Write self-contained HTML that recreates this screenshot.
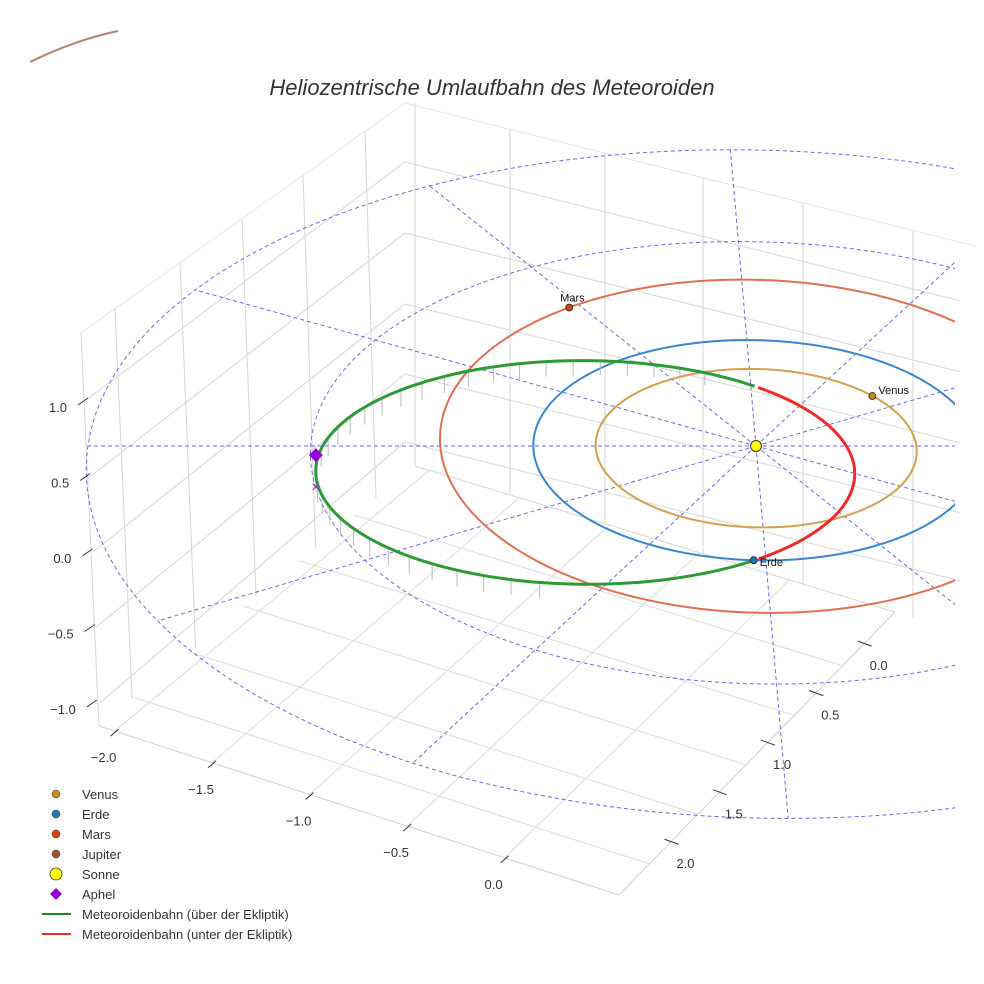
<!DOCTYPE html>
<html><head><meta charset="utf-8"><style>
body{margin:0;background:#fff}
svg{display:block;font-family:"Liberation Sans",sans-serif}
</style></head><body>
<svg id="c" width="984" height="984" viewBox="0 0 984 984">
<defs><clipPath id="clp"><rect x="0" y="0" width="955" height="984"/></clipPath></defs>
<text x="492" y="95" text-anchor="middle" font-size="22" font-style="italic" fill="#333">Heliozentrische Umlaufbahn des Meteoroiden</text>
<g id="grid"></g>
<g id="ref" clip-path="url(#clp)"></g>
<g id="orb" clip-path="url(#clp)"></g>
<g id="ax"></g>
<g id="leg"></g>
</svg>
<script>
const planetNames=["Venus","Erde","Mars"];
const planetRadiiU=[0.72,1.0,1.42];
const planetRadiiV=[0.72,1.0,1.52];
const planetCenterV=[0,0,-0.085];
const planetAngles=[-40,93,-125.5];
const planetColors=["#c98a1a","#1f77b4","#d1440f"];
const orbitColors=["#d4a04a","#3a86d0","#e07050"];
const meteorCenter=[-0.77,0.2];
const meteorAxes=[1.2,1.0];
const splitAngles=[-48,53];
const zTicks=["1.0","0.5","0.0","\u22120.5","\u22121.0"];
const xTicks=["\u22122.0","\u22121.5","\u22121.0","\u22120.5","0.0"];
const yTicks=["0.0","0.5","1.0","1.5","2.0"];
const refRings=[1.0,2.0,3.0];

const NS="http://www.w3.org/2000/svg";
const CX=756,CY=446,A=222.7,D=110,SK=9.5,K=0.038;
function proj(u,v){const w=1-K*v;return [CX+(A*u+SK*v)/w, CY+D*v/w]}
function mk(t,a,p){const e=document.createElementNS(NS,t);for(const k in a)e.setAttribute(k,a[k]);(p||document.getElementById('orb')).appendChild(e);return e}
function pathOf(fn,t0,t1){let d='';for(let t=t0;t<=t1+0.001;t+=2){const p=fn(t);d+=(d?'L':'M')+p[0].toFixed(1)+','+p[1].toFixed(1)}return d}
const grid=document.getElementById('grid');
function gl(x1,y1,x2,y2,c){const l=mk('line',{x1,y1,x2,y2,stroke:c||'#d6d6d6','stroke-width':1},grid);}
function lerp(p,q,t){return [p[0]+(q[0]-p[0])*t,p[1]+(q[1]-p[1])*t]}
const TL=[81,333],TB=[405,103],BL=[99,726],BB=[415,466],FR=[619,895],RR=[895,612],TR=[975,246];
gl(TL[0],TL[1],TB[0],TB[1],'#e6e6e6');gl(TB[0],TB[1],TR[0],TR[1],'#e6e6e6');
gl(TL[0],TL[1],BL[0],BL[1]);gl(TB[0]+10,TB[1],BB[0],BB[1]);
[[400,162],[477,233],[552,304],[627,374],[703,442]].forEach(p=>{const xl=83+(p[0]-333)*0.045;gl(xl,p[0],405,p[1]);});
[115,180,242,303,365].forEach(x=>{const t=333-(x-81)*0.71;const f=(x-81)/324;const b=lerp(BL,BB,f);gl(x,t,b[0],b[1]);});
[162,233,304,374,442].forEach(y=>{gl(405,y,960,y+0.25*555);});
[510,605,703,803,913].forEach(x=>{const t=103+0.25*(x-405);const f=(x-415)/480;const b=lerp(BB,RR,f);gl(x,t,b[0],b[1]);});
gl(BB[0],BB[1],RR[0],RR[1]);
gl(BL[0],BL[1],FR[0],FR[1],'#cfcfcf');gl(FR[0],FR[1],RR[0],RR[1],'#cfcfcf');
for(let i=0;i<5;i++){const f=0.03+i*0.1875;const a=lerp(BL,FR,f),b=lerp(BB,RR,f);gl(a[0],a[1],b[0],b[1],'#dcdcdc');}
for(let i=0;i<5;i++){const f=0.11+i*0.175;const a=lerp(FR,RR,f),b=lerp(BL,BB,f);gl(a[0],a[1],b[0],b[1],'#dcdcdc');}
const ref=document.getElementById('ref');
refRings.forEach(r=>{const e=mk('path',{d:pathOf(t=>{const a=t*Math.PI/180;return proj(r*Math.cos(a),r*Math.sin(a))},0,360),fill:'none',stroke:'#6a6ae8','stroke-width':1,'stroke-dasharray':'4,3'},ref);
 });
for(let k=0;k<12;k++){const a=k*30*Math.PI/180;const R=3.0;const p=proj(R*Math.cos(a),R*Math.sin(a));
 const e=mk('line',{x1:CX,y1:CY,x2:p[0],y2:p[1],stroke:'#6a6ae8','stroke-width':1,'stroke-dasharray':'4,3'},ref);
 }
const jp=mk('path',{d:'M30,62 Q75,40 118,31',fill:'none',stroke:'#b5826a','stroke-width':2});

function porb(i,t){const a=t*Math.PI/180;return proj(planetRadiiU[i]*Math.cos(a),planetCenterV[i]+planetRadiiV[i]*Math.sin(a))}
planetNames.forEach((n,i)=>{const e=mk('path',{d:pathOf(t=>porb(i,t),0,360),fill:'none',stroke:orbitColors[i],'stroke-width':2});
 });
function mpt(t){const a=t*Math.PI/180;return proj(meteorCenter[0]+meteorAxes[0]*Math.cos(a),meteorCenter[1]+meteorAxes[1]*Math.sin(a))}
for(let t=100;t<=300;t+=6){const p=mpt(t);const h=6+12*Math.abs(Math.cos((t-180)*Math.PI/360));
 const l=mk('line',{x1:p[0],y1:p[1],x2:p[0],y2:p[1]+h,stroke:'#bbb','stroke-width':1});}
const gp=mk('path',{d:pathOf(mpt,splitAngles[1],360+splitAngles[0]),fill:'none',stroke:'#2e9a36','stroke-width':3});
const rp=mk('path',{d:pathOf(mpt,splitAngles[0],splitAngles[1]),fill:'none',stroke:'#ee2a2a','stroke-width':3});
planetNames.forEach((n,i)=>{const p=porb(i,planetAngles[i]);const x=p[0],y=p[1];
 const c=mk('circle',{cx:x,cy:y,r:3.5,fill:planetColors[i],stroke:'#222','stroke-width':0.8});
 const t=mk('text',{x:n==="Mars"?x-9:x+6,y:n==="Mars"?y-6:n==="Erde"?y+6:y-2,'font-size':11,fill:'#111'});t.textContent=n;});
const sun=mk('circle',{cx:CX,cy:CY,r:5.5,fill:'#ffff00',stroke:'#333','stroke-width':1});
const ap=mpt(180);
const dia=mk('path',{d:`M${ap[0]},${ap[1]-20} l7,7 l-7,7 l-7,-7z`,fill:'#9400d3'});
const xm=mk('text',{x:ap[0],y:ap[1]+24,'text-anchor':'middle','font-size':16,fill:'#9a30c8'});xm.textContent='\u00d7';
const ax=document.getElementById('ax');
zTicks.forEach((s,i)=>{const y=400+i*75.5;const x=84+i*2.2;
 const l=mk('line',{x1:x-6,y1:y+5,x2:x+4,y2:y-2,stroke:'#333'},ax);
 const t=mk('text',{x:x-17,y:y+12,'text-anchor':'end','font-size':13,fill:'#333'},ax);t.textContent=s;});
xTicks.forEach((s,i)=>{const f=0.03+i*0.1875;const p=lerp(BL,FR,f);
 const l=mk('line',{x1:p[0]+4,y1:p[1]-2,x2:p[0]-4,y2:p[1]+5,stroke:'#333'},ax);
 const t=mk('text',{x:p[0]-11,y:p[1]+31,'text-anchor':'middle','font-size':13,fill:'#333'},ax);t.textContent=s;});
yTicks.forEach((s,i)=>{const f=0.89-i*0.175;const p=lerp(FR,RR,f);
 const l=mk('line',{x1:p[0]-7,y1:p[1]-2,x2:p[0]+7,y2:p[1]+3,stroke:'#333'},ax);
 const t=mk('text',{x:p[0]+14,y:p[1]+27,'text-anchor':'middle','font-size':13,fill:'#333'},ax);t.textContent=s;});
const leg=document.getElementById('leg');
const legLabels=["Venus","Erde","Mars","Jupiter","Sonne","Aphel","Meteoroidenbahn (\u00fcber der Ekliptik)","Meteoroidenbahn (unter der Ekliptik)"];
const legColors=["#c98a1a","#1f77b4","#d1440f","#a0522d","#ffff00","#9400d3","#1e8a1e","#ee2a2a"];
legLabels.forEach((s,i)=>{const y=794+i*20;let m;
 if(i<4)m=mk('circle',{cx:56,cy:y,r:4,fill:legColors[i],stroke:'#333','stroke-width':0.5},leg);
 else if(i==4)m=mk('circle',{cx:56,cy:y,r:6,fill:legColors[i],stroke:'#333','stroke-width':0.8},leg);
 else if(i==5)m=mk('path',{d:`M56,${y-6} l6,6 l-6,6 l-6,-6z`,fill:legColors[i]},leg);
 else m=mk('line',{x1:42,y1:y,x2:71,y2:y,stroke:legColors[i],'stroke-width':2},leg);
 
 const t=mk('text',{x:82,y:y+5,'font-size':13,fill:'#333'},leg);t.textContent=s;});
</script>
</body></html>
